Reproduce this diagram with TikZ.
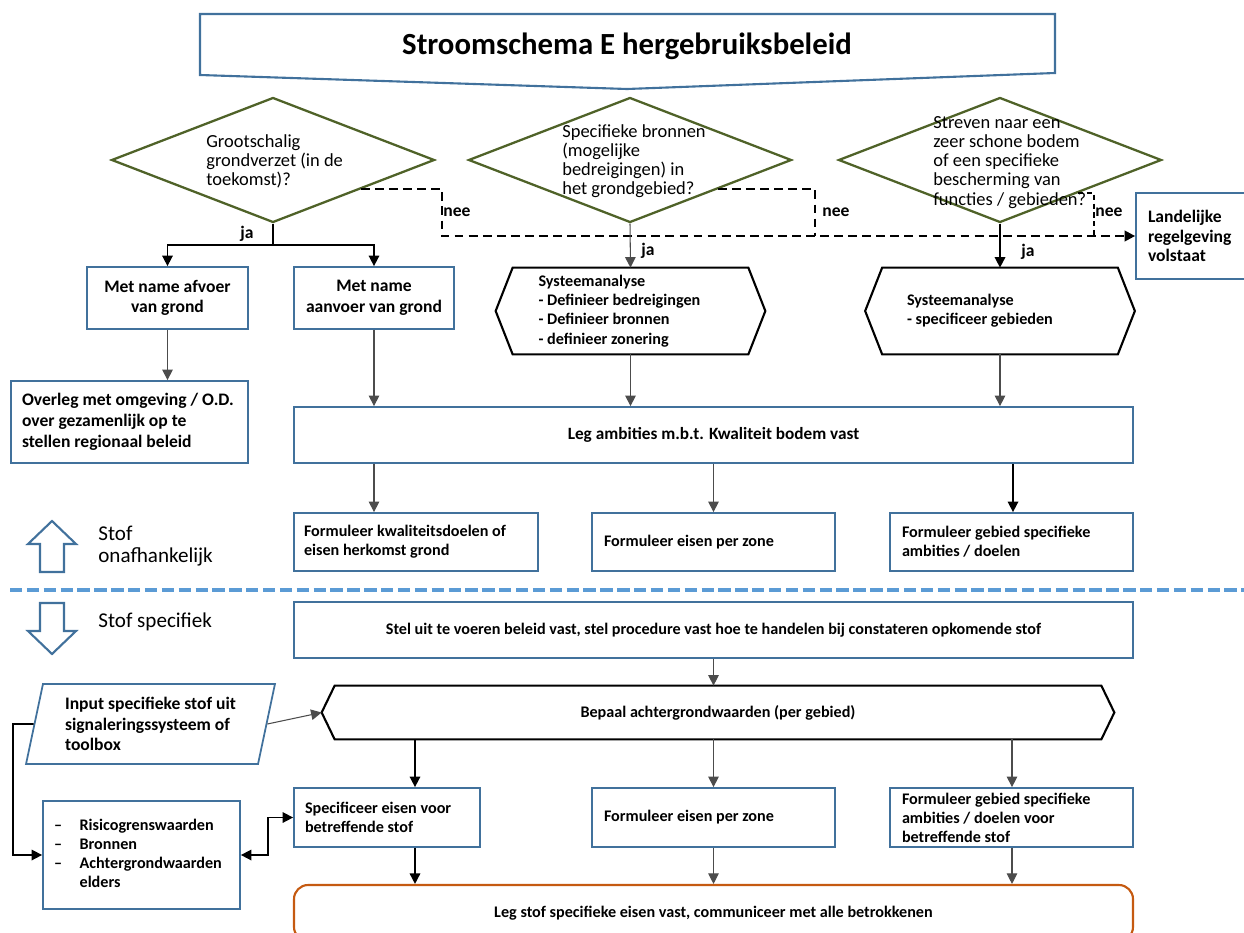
\documentclass[tikz,border=0pt]{standalone}
\usepackage{fontspec}
\setmainfont{Carlito}
\usepackage{tikz}
\usetikzlibrary{arrows.meta,shapes.geometric,calc}

\definecolor{kaderblauw}{RGB}{65,113,156}
\definecolor{ruitgroen}{RGB}{79,98,40}
\definecolor{oranje}{RGB}{197,90,17}
\definecolor{lijnblauw}{RGB}{91,155,213}

\tikzset{
  maat/.style 2 args={minimum width=#1*0.02cm, minimum height=#2*0.02cm},
  links/.style={align=flush left, text width=#1*0.02cm},
  kader/.style={rectangle, draw=kaderblauw, line width=1pt, fill=white, inner sep=0pt},
  ruit/.style={diamond, draw=ruitgroen, line width=1.3pt, inner sep=0pt, maat={323}{125}},
  ruittekst/.style={anchor=base west, align=flush left, text width=180*0.02cm, inner sep=0pt,
    font=\fontsize{10.5}{11}\selectfont},
  zesvlak/.style={inner sep=0pt},
  zeslijn/.style={draw=black, line width=1.2pt},
  invoer/.style={trapezium, trapezium left angle=76, trapezium right angle=104,
    trapezium stretches=true, draw=kaderblauw, line width=1pt, inner sep=0pt},
  vet/.style={font=\fontsize{10}{11.8}\selectfont\bfseries},
  klein/.style={font=\fontsize{9.2}{10.8}\selectfont\bfseries},
  antwoord/.style={font=\fontsize{10}{12}\selectfont\bfseries, inner sep=0pt},
  neelijn/.style={draw=black, line width=1.3pt, dash pattern=on 5pt off 3pt},
  needun/.style={draw=black, line width=0.8pt, dash pattern=on 3pt off 2pt},
  dun/.style={draw=black!70, line width=0.6pt},
  dik/.style={draw=black, line width=0.9pt},
}

\newcommand{\zeshoek}[2]{%
  \draw[zeslijn] (#1.west) -- ($(#1.north west)+(#2,0)$) -- ($(#1.north east)+(-#2,0)$)
    -- (#1.east) -- ($(#1.south east)+(-#2,0)$) -- ($(#1.south west)+(#2,0)$) -- cycle;}

\begin{document}
\begin{tikzpicture}[x=0.02cm, y=-0.02cm]
\useasboundingbox (0,0) rectangle (1244,933);
\clip (0,0) rectangle (1244,933);

% titel
\draw[kaderblauw, line width=1.2pt] (200,14) -- (1055,14) -- (1055,73) -- (627,89) -- (200,75) -- cycle;
\node[font=\fontsize{17.5}{20}\selectfont\bfseries] (titel) at (627,46) {Stroomschema E hergebruiksbeleid};

% vragen
\node[ruit] (v1) at (273,160) {};
\node[ruit] (v2) at (630,160) {};
\node[ruit] (v3) at (1000,160) {};
\node[ruittekst] (t1) at (206,147) {Grootschalig\\grondverzet (in de\\toekomst)?};
\node[ruittekst] (t2) at (562,137) {Specifieke bronnen\\(mogelijke\\bedreigingen) in\\het grondgebied?};
\node[ruittekst] (t3) at (933,128) {Streven naar een\\zeer schone bodem\\of een specifieke\\bescherming van\\functies / gebieden?};

% bovenste deel
\node[kader, maat={161}{62}, vet, align=flush center] (afvoer) at (167.5,298) {Met name afvoer\\van grond};
\node[kader, maat={160}{62}, vet, align=flush center] (aanvoer) at (374,298) {Met name\\aanvoer van grond};
\node[kader, maat={237}{82}, vet, links=215] (overleg) at (129.5,422) {Overleg met omgeving / O.D.\\over gezamenlijk op te\\stellen regionaal beleid};
\node[kader, maat={130}{86}, vet, links=106, font=\fontsize{10}{11}\selectfont\bfseries] (landelijk) at (1201,236) {Landelijke\\regelgeving\\volstaat};

\node[zesvlak, maat={269}{86}, links=184, font=\fontsize{9.2}{11}\selectfont\bfseries] (analyse1) at (630.5,311) {Systeemanalyse\\- Definieer bedreigingen\\- Definieer bronnen\\- definieer zonering};
\zeshoek{analyse1}{17}
\node[zesvlak, maat={269}{86}, links=186, font=\fontsize{9.2}{11}\selectfont\bfseries] (analyse2) at (1000,311) {Systeemanalyse\\- specificeer gebieden};
\zeshoek{analyse2}{17}

\node[kader, maat={839}{56}, font=\fontsize{9.8}{11}\selectfont\bfseries, align=flush center] (ambities) at (713.5,435) {Leg ambities m.b.t. Kwaliteit bodem vast};
\node[kader, maat={244}{58}, klein, links=224] (doel1) at (416,542) {Formuleer kwaliteitsdoelen of\\eisen herkomst grond};
\node[kader, maat={243}{58}, klein, links=219] (zone1) at (713.5,542) {Formuleer eisen per zone};
\node[kader, maat={243}{58}, klein, links=219] (gebied1) at (1011.5,542) {Formuleer gebied specifieke\\ambities / doelen};

% scheiding stof onafhankelijk / stof specifiek
\draw[lijnblauw, line width=2.3pt, dash pattern=on 7pt off 2.6pt] (10,590) -- (1244,590);
\draw[kaderblauw, line width=1.2pt, fill=white] (52,521) -- (76,544) -- (64,544) -- (64,572) -- (40,572) -- (40,544) -- (28,544) -- cycle;
\draw[kaderblauw, line width=1.2pt, fill=white] (40,603) -- (64,603) -- (64,631) -- (76,631) -- (52,654) -- (28,631) -- (40,631) -- cycle;
\node[anchor=base west, align=flush left, text width=150*0.02cm, inner sep=0pt, font=\fontsize{12}{13}\selectfont] (onafh) at (98,540) {Stof\\onafhankelijk};
\node[anchor=base west, inner sep=0pt, font=\fontsize{12}{13}\selectfont] (specif) at (98,627) {Stof specifiek};

% onderste deel
\node[kader, maat={839}{56}, klein, align=flush center] (beleid) at (713.5,630) {Stel uit te voeren beleid vast, stel procedure vast hoe te handelen bij constateren opkomende stof};
\node[zesvlak, maat={792}{53}, klein, align=flush center] (achtergrond) at (718,712.5) {Bepaal achtergrondwaarden (per gebied)};
\zeshoek{achtergrond}{13}
\node[invoer, maat={249}{80}, vet, align=flush left] (input) at (150.5,724) {Input specifieke stof uit\\signaleringssysteem of\\toolbox};
\node[kader, maat={197}{108}, klein, links=175] (risico) at (141.5,855) {%
  \begin{tabular}{@{}l@{\hspace{10pt}}l@{}}
  -- & Risicogrenswaarden\\
  -- & Bronnen\\
  -- & Achtergrondwaarden\\
     & elders
  \end{tabular}};
\node[kader, maat={186}{59}, klein, links=164] (eisen) at (387,817.5) {Specificeer eisen voor\\betreffende stof};
\node[kader, maat={243}{59}, klein, links=219] (zone2) at (713.5,817.5) {Formuleer eisen per zone};
\node[kader, maat={243}{59}, klein, links=219] (gebied2) at (1011.5,817.5) {Formuleer gebied specifieke\\ambities / doelen voor\\betreffende stof};
\node[rectangle, rounded corners=8pt, draw=oranje, line width=1.2pt, fill=white, inner sep=0pt, maat={839}{56}, klein, align=flush center] (vastleggen) at (713.5,913) {Leg stof specifieke eisen vast, communiceer met alle betrokkenen};

% verbindingen
\coordinate (splits) at (273,245);
\coordinate (knik1) at (442,236);
\coordinate (knik2) at (815,236);
\coordinate (knik3) at (1094,236);
\coordinate (omweg) at (13,724);
\coordinate (links3) at (415,0);

\begin{scope}[>={Triangle[length=6pt,width=6pt]}]
  \draw[dik] (v1.south) -- (splits);
  \draw[dik, ->] (splits) -| (afvoer.north);
  \draw[dik, ->] (splits) -| (aanvoer.north);
  \draw[neelijn, ->] ($(v1.east)!0.46!(v1.south)$) -| (knik1) -- (landelijk.west);
  \draw[neelijn] ($(v2.east)!0.46!(v2.south)$) -| (knik2);
  \draw[needun] ($(v3.east)!0.52!(v3.south)$) -| (knik3);
  \draw[dun, ->] (v2.south) -- (analyse1.north);
  \draw[dik, ->] (v3.south) -- (analyse2.north);

  \draw[dun, ->] (afvoer.south) -- (afvoer.south |- overleg.north);
  \draw[dun, ->] (aanvoer.south) -- (aanvoer.south |- ambities.north);
  \draw[dun, ->] (analyse1.south) -- (analyse1.south |- ambities.north);
  \draw[dun, ->] (analyse2.south) -- (analyse2.south |- ambities.north);
  \draw[dun, ->] (aanvoer.south |- ambities.south) -- (aanvoer.south |- doel1.north);
  \draw[dun, ->] (zone1 |- ambities.south) -- (zone1.north);
  \draw[dik, ->] (1013,0 |- ambities.south) -- (1013,0 |- gebied1.north);

  \draw[dun, ->] (beleid.south) -- (beleid.south |- achtergrond.north);
  \draw[dun, ->] (input.east) -- (achtergrond.west);
  \draw[dik, ->] (input.west) -- (omweg) |- (risico.west);
  \draw[dik, <->] (risico.east) -- ++(27,0) |- (eisen.west);
  \draw[dik, ->] (links3 |- achtergrond.south) -- (links3 |- eisen.north);
  \draw[dun, ->] (zone2 |- achtergrond.south) -- (zone2.north);
  \draw[dun, ->] (1012,0 |- achtergrond.south) -- (1012,0 |- gebied2.north);
  \draw[dik, ->] (links3 |- eisen.south) -- (links3 |- vastleggen.north);
  \draw[dun, ->] (zone2.south) -- (zone2.south |- vastleggen.north);
  \draw[dun, ->] (1012,0 |- gebied2.south) -- (1012,0 |- vastleggen.north);
\end{scope}

% antwoorden
\node[antwoord] (ja1) at (247,234) {ja};
\node[antwoord] (nee1) at (457,212) {nee};
\node[antwoord] (nee2) at (836,212) {nee};
\node[antwoord] (nee3) at (1109,212) {nee};
\node[antwoord] (ja2) at (648,251) {ja};
\node[antwoord] (ja3) at (1028,252) {ja};
\end{tikzpicture}
\end{document}
